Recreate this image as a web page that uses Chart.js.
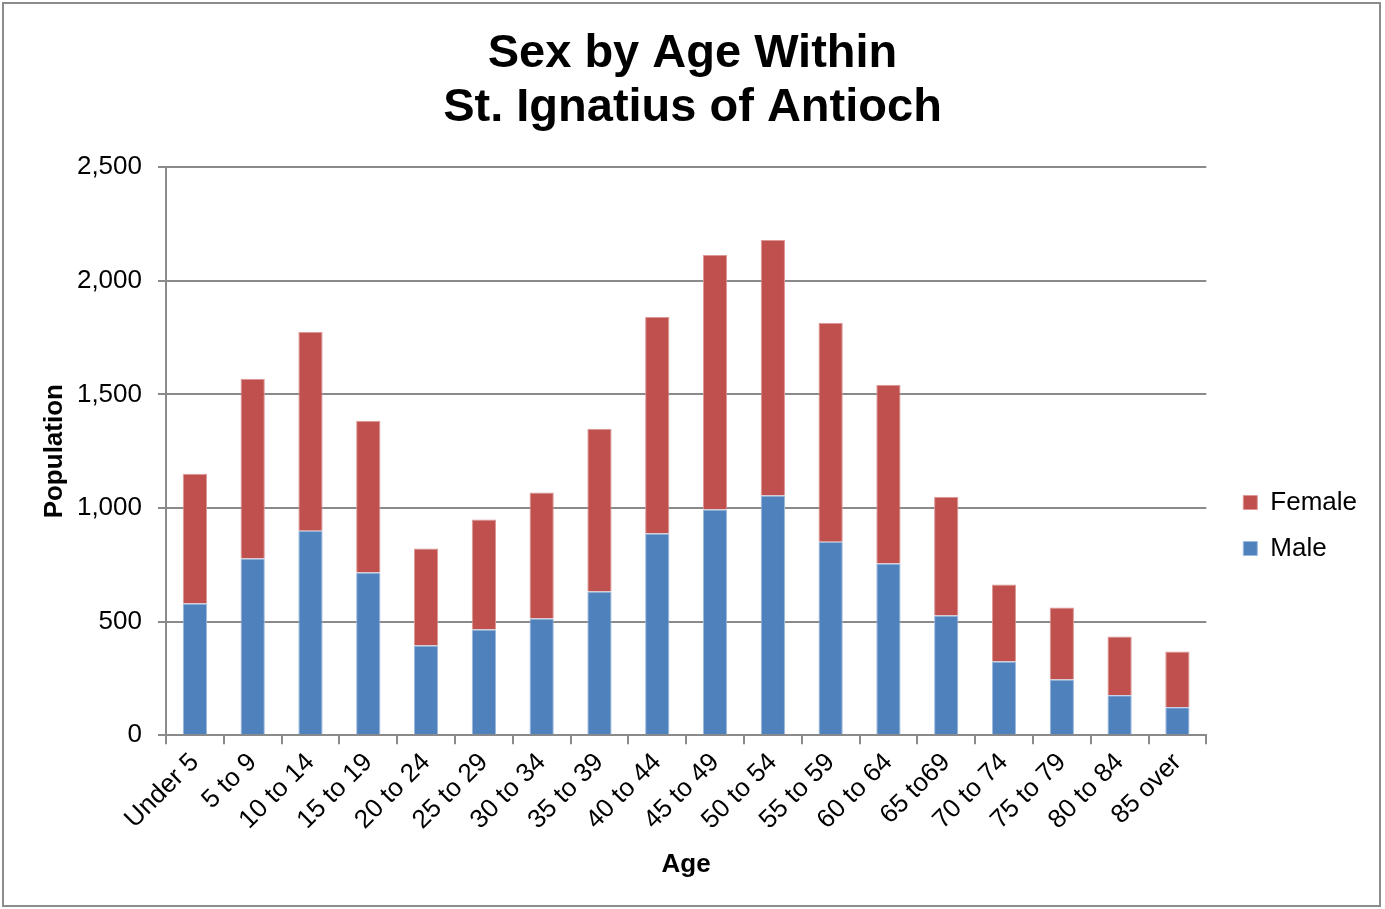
<!DOCTYPE html>
<html>
<head>
<meta charset="utf-8">
<script src="https://cdn.jsdelivr.net/npm/chart.js@4.4.1/dist/chart.umd.min.js"></script>
<style>
  body { margin: 0; background: #fff; }
  #wrap { position: absolute; left: 2px; top: 2px; width: 1379px; height: 905px; border: 2px solid #8c8c8c; box-sizing: border-box; }
</style>
</head>
<body>
<div id="wrap"><canvas id="chart"></canvas></div>
<script>
    "use strict";

    // Age groups and population counts
    var ageGroups = ["Under 5", "5 to 9", "10 to 14", "15 to 19", "20 to 24", "25 to 29", "30 to 34",
        "35 to 39", "40 to 44", "45 to 49", "50 to 54", "55 to 59", "60 to 64", "65 to69",
        "70 to 74", "75 to 79", "80 to 84", "85 over"];
    var male = [580, 778, 900, 716, 395, 466, 514, 633, 888, 993, 1055, 852, 756, 527, 325, 246, 176, 123];
    var female = [571, 791, 875, 668, 427, 483, 554, 716, 953, 1120, 1124, 963, 786, 523, 338, 316, 259, 246];

    var gridColor = "#8a8a8a";
    var font = "'Liberation Sans', Arial, sans-serif";

    // Excel puts the legend lower and further right than Chart.js does
    var legendShift = {
        id: "legendShift",
        afterLayout: function (chart) {
            chart.legend.top += 72;
            chart.legend.bottom += 72;
            chart.legend.left += 17;
            chart.legend.right += 17;
        }
    };

    var ctx = document.getElementById("chart").getContext("2d");
    var myChart = new Chart(ctx, {
        type: "bar",
        data: {
            labels: ageGroups,
            datasets: [{
                    label: "Male",
                    data: male,
                    backgroundColor: "#4F81BD",
                    borderColor: "#9db9dd",
                    borderWidth: 1,
                    borderSkipped: "bottom",
                    barPercentage: 0.42,
                    categoryPercentage: 1
                },
                {
                    label: "Female",
                    data: female,
                    backgroundColor: "#C0504D",
                    borderColor: "#dc9896",
                    borderWidth: 1,
                    borderSkipped: "bottom",
                    barPercentage: 0.42,
                    categoryPercentage: 1
                }
            ]
        },
        plugins: [legendShift],
        options: {
            responsive: true,
            maintainAspectRatio: false,
            animation: false,
            layout: {
                padding: { left: 31, right: 29, top: 23, bottom: 25 }
            },
            plugins: {
                title: {
                    display: true,
                    text: ["Sex by Age Within", "St. Ignatius of Antioch"],
                    color: "#000",
                    font: { family: font, size: 47, weight: "bold", lineHeight: 1.15 },
                    padding: { top: 0, bottom: 32 }
                },
                legend: {
                    position: "right",
                    reverse: true,
                    labels: {
                        color: "#000",
                        boxWidth: 14,
                        boxHeight: 14,
                        padding: 20,
                        font: { family: font, size: 26 }
                    }
                },
                tooltip: { enabled: false }
            },
            scales: {
                x: {
                    stacked: true,
                    border: { color: gridColor, width: 2 },
                    grid: {
                        drawOnChartArea: false,
                        color: gridColor,
                        lineWidth: 2,
                        tickLength: 9
                    },
                    ticks: {
                        color: "#000",
                        minRotation: 45,
                        maxRotation: 45,
                        font: { family: font, size: 26 }
                    },
                    title: {
                        display: true,
                        text: "Age",
                        color: "#000",
                        padding: { top: 10, bottom: 0 },
                        font: { family: font, size: 26, weight: "bold" }
                    }
                },
                y: {
                    stacked: true,
                    min: 0,
                    max: 2500,
                    afterFit: function (scale) {
                        scale.width = 131;
                    },
                    border: { color: gridColor, width: 2 },
                    grid: {
                        color: gridColor,
                        lineWidth: 2,
                        tickLength: 8
                    },
                    ticks: {
                        stepSize: 500,
                        color: "#000",
                        padding: 16,
                        font: { family: font, size: 26 }
                    },
                    title: {
                        display: true,
                        text: "Population",
                        color: "#000",
                        font: { family: font, size: 26, weight: "bold" }
                    }
                }
            }
        }
    });
</script>
</body>
</html>
